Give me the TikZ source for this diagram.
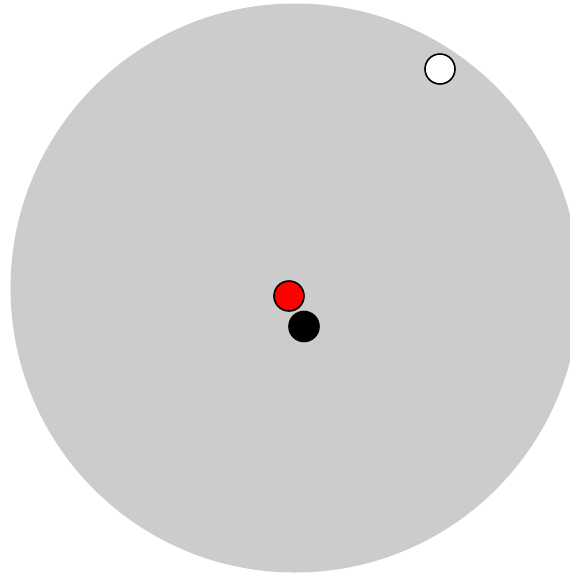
\documentclass[tikz,border=0pt]{standalone}
\begin{document}
\begin{tikzpicture}[x=1pt,y=-1pt,
  disc/.style={circle,inner sep=0pt,minimum size=30pt,line width=1.6pt,draw=black}]
\useasboundingbox (0,0) rectangle (570,574);
\clip (0,0) rectangle (570,574);
\fill[white] (0,0) rectangle (570,574);
\node[circle,fill={rgb,255:red,204;green,204;blue,204},minimum size=569pt,inner sep=0pt] (field) at (295,288) {};
\node[disc,fill=white] (w) at (440,69) {};
\node[disc,fill=red] (r) at (289,296) {};
\node[disc,fill=black] (b) at (304,326.5) {};
\end{tikzpicture}
\end{document}
